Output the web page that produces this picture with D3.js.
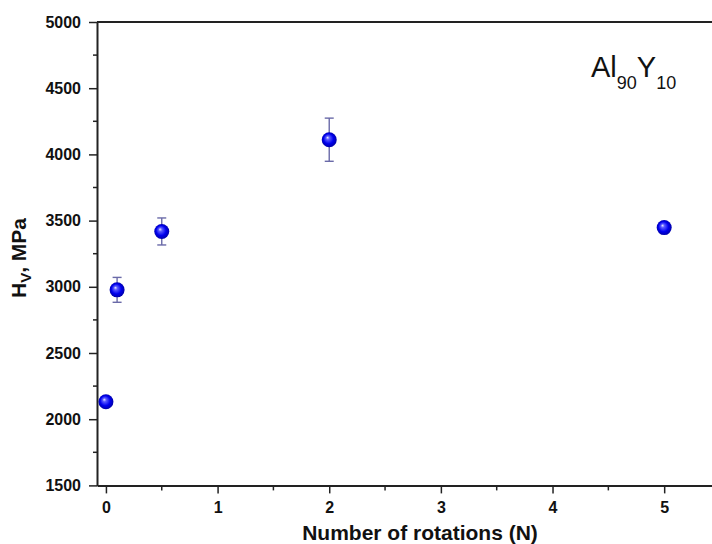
<!DOCTYPE html>
<html><head><meta charset="utf-8">
<script src="https://cdn.jsdelivr.net/npm/d3@7"></script>
<style>body{margin:0;background:#fff}svg{display:block}</style>
</head><body>
<svg id="c" width="712" height="544"></svg>
<script>
const rotations = [0, 0.1, 0.5, 2, 5];
const hardness = [2132, 2977, 3418, 4111, 3447];
const errors = [15, 94, 102, 163, 30];
const xTicks = [0, 1, 2, 3, 4, 5];
const yTicks = [1500, 2000, 2500, 3000, 3500, 4000, 4500, 5000];

const svg = d3.select("#c");
const x = d3.scaleLinear().domain([-0.08, 5.5]).range([97, 720]);
const y = d3.scaleLinear().domain([1500, 5000]).range([485.4, 22]);
const axisColor = "#222";
const font = "'Liberation Sans', Arial, sans-serif";

const defs = svg.append("defs");
const g = defs.append("radialGradient").attr("id","ball").attr("cx","50%").attr("cy","50%").attr("r","55%").attr("fx","38%").attr("fy","35%");
g.append("stop").attr("offset","0%").attr("stop-color","#e8e8ff");
g.append("stop").attr("offset","22%").attr("stop-color","#5a5aff");
g.append("stop").attr("offset","60%").attr("stop-color","#0000ee");
g.append("stop").attr("offset","100%").attr("stop-color","#00009a");

// minor ticks
const yMinor = d3.range(1750, 5000, 500);
svg.append("g").selectAll("line").data(yMinor).join("line")
  .attr("x1", x(-0.08) - 4).attr("x2", x(-0.08))
  .attr("y1", d => y(d)).attr("y2", d => y(d))
  .attr("stroke", axisColor).attr("stroke-width", 1.5);
const xMinor = [0.5, 1.5, 2.5, 3.5, 4.5];
svg.append("g").selectAll("line").data(xMinor).join("line")
  .attr("x1", d => x(d)).attr("x2", d => x(d))
  .attr("y1", y(1500)).attr("y2", y(1500) + 5)
  .attr("stroke", axisColor).attr("stroke-width", 1.5);

// axes
const yAxis = svg.append("g").attr("transform", `translate(${x(-0.08)},0)`)
  .call(d3.axisLeft(y).tickValues(yTicks).tickSize(8).tickPadding(8).tickSizeOuter(0).tickFormat(d3.format("d")));
const xAxis = svg.append("g").attr("transform", `translate(0,${y(1500)})`)
  .call(d3.axisBottom(x).tickValues(xTicks).tickSize(8).tickPadding(8).tickSizeOuter(0).tickFormat(d3.format("d")));
[yAxis, xAxis].forEach(a => {
  a.select(".domain").attr("stroke", axisColor).attr("stroke-width", 2);
  a.selectAll(".tick line").attr("stroke", axisColor).attr("stroke-width", 1.5);
  a.selectAll("text").attr("fill", "#111").style("font-family", font).style("font-weight", "bold").style("font-size", "16px");
});
// top frame
svg.append("line").attr("x1", x(-0.08)).attr("x2", 712).attr("y1", y(5000)).attr("y2", y(5000))
  .attr("stroke", axisColor).attr("stroke-width", 2);

// error bars
const pts = rotations.map((r, i) => ({r, v: hardness[i], e: errors[i]}));
const eb = svg.append("g").attr("stroke", "#6a6aa8").attr("stroke-width", 1.4);
pts.forEach(p => {
  eb.append("line").attr("x1", x(p.r)).attr("x2", x(p.r)).attr("y1", y(p.v + p.e)).attr("y2", y(p.v - p.e));
  [p.v + p.e, p.v - p.e].forEach(v => eb.append("line").attr("x1", x(p.r) - 4.5).attr("x2", x(p.r) + 4.5).attr("y1", y(v)).attr("y2", y(v)));
});
svg.append("g").selectAll("circle").data(pts).join("circle")
  .attr("cx", d => x(d.r)).attr("cy", d => y(d.v)).attr("r", 7.5).attr("fill", "url(#ball)");

// axis titles
svg.append("text").attr("x", 420).attr("y", 540).attr("text-anchor", "middle")
  .style("font-family", font).style("font-weight", "bold").style("font-size", "21px").attr("fill", "#111")
  .text("Number of rotations (N)");
const yt = svg.append("text").attr("transform", "translate(26,258) rotate(-90)").attr("text-anchor", "middle")
  .style("font-family", font).style("font-weight", "bold").style("font-size", "21px").attr("fill", "#111");
yt.append("tspan").text("H");
yt.append("tspan").attr("dy", 5).style("font-size", "15px").text("V");
yt.append("tspan").attr("dy", -5).text(", MPa");

// annotation
const an = svg.append("text").attr("x", 591).attr("y", 77)
  .style("font-family", font).style("font-size", "29px").attr("fill", "#111");
an.append("tspan").text("Al");
an.append("tspan").attr("dy", 12).style("font-size", "18px").text("90");
an.append("tspan").attr("dy", -12).text("Y");
an.append("tspan").attr("dy", 12).style("font-size", "18px").text("10");
</script>
</body></html>
